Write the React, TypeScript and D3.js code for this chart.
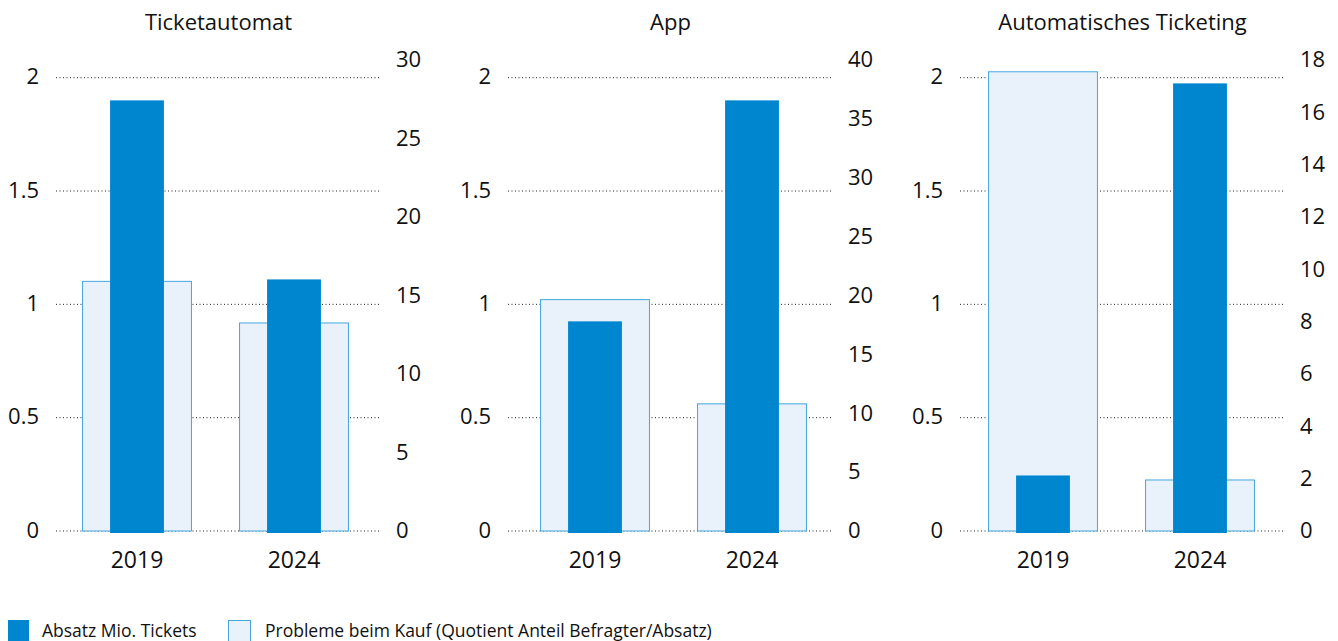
import React from "react";
import * as d3 from "d3";

const panels = ["Ticketautomat", "App", "Automatisches Ticketing"];
const years = ["2019", "2024"];
const absatz = [
  [1.9, 1.11],
  [0.925, 1.9],
  [0.245, 1.975],
];
const probleme = [
  [15.9, 13.25],
  [19.65, 10.8],
  [17.55, 1.95],
];
const rightMax = [30, 40, 18];
const rightStep = [5, 5, 2];
const leftTicks = [0, 0.5, 1, 1.5, 2];
const legendLabels = ["Absatz Mio. Tickets", "Probleme beim Kauf (Quotient Anteil Befragter/Absatz)"];

const DARK = "#0086cf";
const LIGHT = "#e9f1fa";
const LIGHT_STROKE = "#45a6de";
const FONT = "'Open Sans', sans-serif";

export default function App() {
  const W = 1338, H = 641;
  const top = 60, bottom = 531;
  const panelX = [56, 508, 960];
  const barOff = [-3, 3, -1];
  const panelW = 325;
  const yL = d3.scaleLinear().domain([0, 2]).range([bottom, 77.7]);
  const fmt = d3.format("");
  return (
    <svg width={W} height={H} style={{ position: "absolute", left: 0, top: 0, background: "#fff" }} fontFamily={FONT}>
      {panels.map((title, p) => {
        const x0 = panelX[p];
        const yR = d3.scaleLinear().domain([0, rightMax[p]]).range([bottom, top]);
        const rTicks = d3.range(0, rightMax[p] + 0.001, rightStep[p]);
        const xb = d3
          .scaleBand()
          .domain(years)
          .range([barOff[p], barOff[p] + panelW])
          .paddingInner(0.3)
          .paddingOuter(0.185);
        const bw = xb.bandwidth();
        const dw = bw * 0.49;
        return (
          <g key={title} transform={`translate(${x0},0)`}>
            <text x={panelW / 2} y={30} textAnchor="middle" fontSize={22} fill="#111">{title}</text>
            {leftTicks.map((t) => (
              <g key={t}>
                <line x1={0} x2={panelW} y1={yL(t)} y2={yL(t)} stroke="#222" strokeWidth={1} strokeDasharray="1,2.5" />
                <text x={-17} y={yL(t)} dy="0.3em" textAnchor="end" fontSize={22} fill="#111">{fmt(t)}</text>
              </g>
            ))}
            {rTicks.map((t) => (
              <text key={t} x={panelW + 15} y={yR(t)} dy="0.33em" textAnchor="start" fontSize={22} fill="#111">{t}</text>
            ))}
            {years.map((yr, i) => {
              const bx = xb(yr)!;
              const cx = bx + bw / 2;
              return (
                <g key={yr}>
                  <rect x={bx + 0.5} y={yR(probleme[p][i])} width={bw - 1} height={bottom - yR(probleme[p][i])} fill={LIGHT} stroke={LIGHT_STROKE} strokeWidth={1} />
                  <rect x={cx - dw / 2} y={yL(absatz[p][i])} width={dw} height={bottom + 2 - yL(absatz[p][i])} fill={DARK} />
                  <text x={cx} y={560} dy="0.35em" textAnchor="middle" fontSize={23} fill="#111">{yr}</text>
                </g>
              );
            })}
          </g>
        );
      })}
      <g>
        <rect x={8} y={620} width={21} height={21} fill={DARK} />
        <text x={42} y={637} fontSize={17.5} fill="#111">{legendLabels[0]}</text>
        <rect x={228.5} y={620.5} width={22} height={21} fill={LIGHT} stroke={LIGHT_STROKE} />
        <text x={265} y={637} fontSize={17.5} fill="#111">{legendLabels[1]}</text>
      </g>
    </svg>
  );
}
